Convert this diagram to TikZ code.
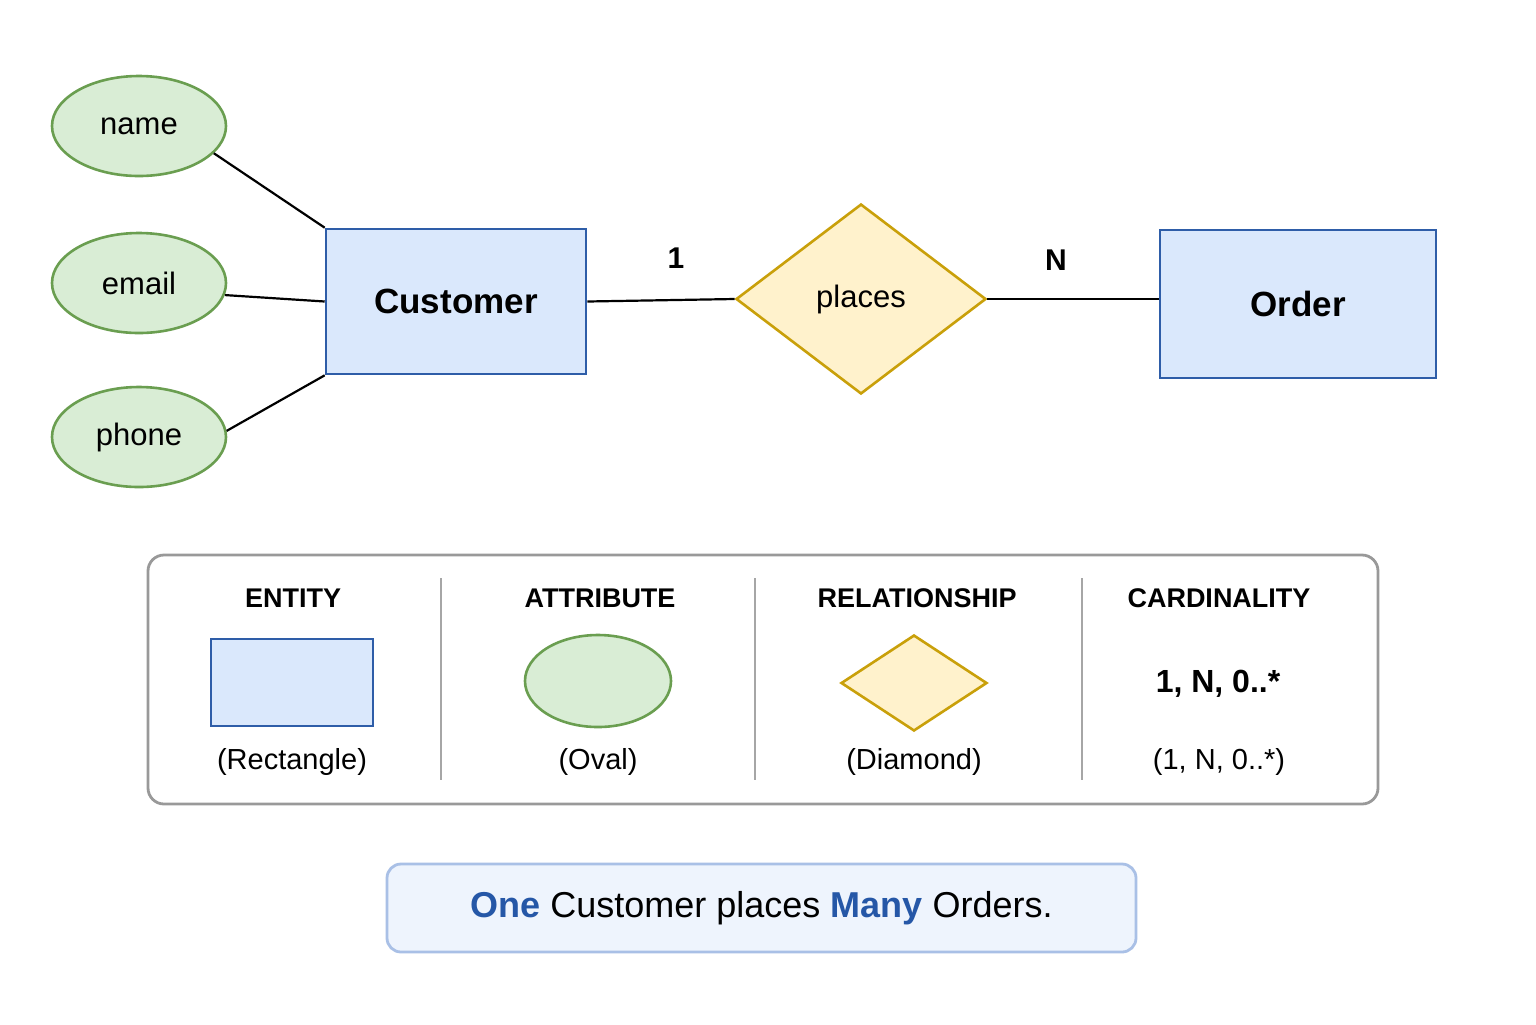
\documentclass[tikz,border=0pt]{standalone}
\usepackage{fontspec}
\setmainfont{Liberation Sans}
\usetikzlibrary{shapes.geometric}
\definecolor{entF}{HTML}{DAE8FC}\definecolor{entD}{HTML}{2E5DA8}
\definecolor{attF}{HTML}{D9EDD5}\definecolor{attD}{HTML}{6A9E50}
\definecolor{relF}{HTML}{FFF2CC}\definecolor{relD}{HTML}{C9A00A}
\definecolor{noteF}{HTML}{EEF4FD}\definecolor{noteD}{HTML}{A9C0E6}
\definecolor{hl}{HTML}{2557A7}
\begin{document}
\begin{tikzpicture}[x=0.5pt,y=-0.5pt,
 ent/.style={draw=entD,fill=entF,line width=1.3pt,rectangle,inner sep=0pt,font=\fontsize{17.5}{20}\selectfont\bfseries},
 att/.style={draw=attD,fill=attF,line width=1.3pt,ellipse,minimum width=87pt,minimum height=50pt,inner sep=0pt,font=\fontsize{15.5}{18}\selectfont},
 rel/.style={draw=relD,fill=relF,line width=1.3pt,diamond,inner sep=0pt,font=\fontsize{15.5}{18}\selectfont},
 lnk/.style={line width=1.1pt},
 hd/.style={font=\fontsize{13.5}{16}\selectfont\bfseries},
 sub/.style={font=\fontsize{14.5}{17}\selectfont}]
\useasboundingbox (0,0) rectangle (1536,1024);
\fill[white] (0,0) rectangle (1536,1024);
\node[att] (name) at (139,126) {name};
\node[att] (email) at (139,283) {email};
\node[att] (phone) at (139,437) {phone};
\node[ent,minimum width=130pt,minimum height=72.5pt] (cust) at (456,301.5) {Customer};
\node[rel,minimum width=125pt,minimum height=95pt] (places) at (861,299) {places};
\node[ent,minimum width=138pt,minimum height=74pt] (order) at (1298,304) {Order};
\draw[lnk] (name.340) -- (cust.north west);
\draw[lnk] (email.352) -- (cust.west);
\draw[lnk] (phone.4) -- (cust.south west);
\draw[lnk] (cust.east) -- (places.west);
\draw[lnk] (places.east) -- (order.west |- places.east);
\node[font=\fontsize{15}{17}\selectfont\bfseries] (one) at (676,258) {1};
\node[font=\fontsize{15}{17}\selectfont\bfseries] (nn) at (1056,260) {N};
% legend
\node[draw=black!40,line width=1.4pt,rounded corners=8pt,minimum width=615pt,minimum height=124.5pt] (leg) at (763,679.5) {};
\foreach \x in {441,755,1082}{\draw[black!35,line width=0.7pt] (\x,578) -- (\x,780);}
\node[hd] (h1) at (293,598) {ENTITY};
\node[hd] (h2) at (600,598) {ATTRIBUTE};
\node[hd] (h3) at (917,598) {RELATIONSHIP};
\node[hd] (h4) at (1219,598) {CARDINALITY};
\node[ent,minimum width=81pt,minimum height=43.5pt] (le) at (292,682.5) {};
\node[att,minimum width=73pt,minimum height=46pt] (la) at (598,681) {};
\node[rel,minimum width=73pt,minimum height=48pt] (lr) at (914,683) {};
\node[font=\fontsize{16}{19}\selectfont\bfseries] (lc) at (1218,684) {1, N, 0..*};
\node[sub] (s1) at (292,762) {(Rectangle)};
\node[sub] (s2) at (598,762) {(Oval)};
\node[sub] (s3) at (914,762) {(Diamond)};
\node[sub] (s4) at (1219,762) {(1, N, 0..*)};
% note
\node[draw=noteD,fill=noteF,line width=1.4pt,rounded corners=7pt,minimum width=374.5pt,minimum height=44pt,font=\fontsize{18}{21}\selectfont] (note) at (761.5,908) {\textcolor{hl}{\bfseries One} Customer places \textcolor{hl}{\bfseries Many} Orders.};
\end{tikzpicture}
\end{document}
